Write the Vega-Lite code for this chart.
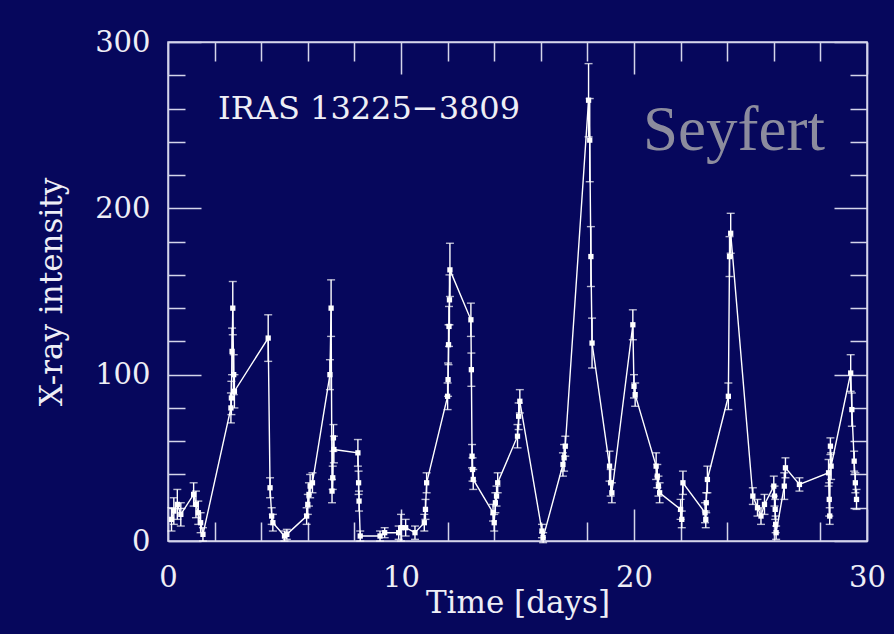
{
  "$schema": "https://vega.github.io/schema/vega-lite/v6.json",
  "autosize": {"type": "none"},
  "width": 699,
  "height": 499,
  "padding": {"left": 168, "top": 42, "right": 27, "bottom": 93},
  "background": "#06075c",
  "config": {
    "view": {"stroke": "#d4d4ea", "strokeWidth": 1.5},
    "axis": {"grid": false, "domainColor": "#d4d4ea", "domainWidth": 1.5, "tickColor": "#d4d4ea", "tickWidth": 1.5, "labelFlush": false, "labelOverlap": false}
  },
  "data": {"values": [
    {"t":0.15,"y":13,"e":7},{"t":0.25,"y":18,"e":8},{"t":0.4,"y":22,"e":9},{"t":0.55,"y":16,"e":7},
    {"t":1.1,"y":28,"e":7},{"t":1.2,"y":22,"e":8},{"t":1.3,"y":17,"e":7},{"t":1.4,"y":11,"e":6},{"t":1.5,"y":4,"e":4},
    {"t":2.7,"y":80,"e":9},{"t":2.72,"y":86,"e":10},{"t":2.75,"y":114,"e":14},{"t":2.78,"y":140,"e":16},{"t":2.82,"y":100,"e":12},{"t":2.85,"y":90,"e":10},
    {"t":4.3,"y":122,"e":14},{"t":4.38,"y":32,"e":6},{"t":4.45,"y":15,"e":5},{"t":4.5,"y":11,"e":5},
    {"t":5.0,"y":3,"e":3},{"t":5.1,"y":4,"e":3},
    {"t":5.95,"y":15,"e":5},{"t":6.0,"y":22,"e":6},{"t":6.05,"y":28,"e":7},{"t":6.1,"y":33,"e":7},{"t":6.2,"y":35,"e":6},
    {"t":6.95,"y":100,"e":9},{"t":7.0,"y":140,"e":17},{"t":7.04,"y":30,"e":7},{"t":7.07,"y":38,"e":7},{"t":7.1,"y":62,"e":8},{"t":7.12,"y":55,"e":8},
    {"t":8.15,"y":53,"e":8},{"t":8.18,"y":35,"e":7},{"t":8.2,"y":24,"e":6},{"t":8.25,"y":3,"e":3},
    {"t":9.1,"y":3,"e":3},{"t":9.3,"y":5,"e":3},
    {"t":9.9,"y":5,"e":4},{"t":10.0,"y":8,"e":8},{"t":10.2,"y":8,"e":5},{"t":10.6,"y":5,"e":4},
    {"t":11.0,"y":11,"e":5},{"t":11.05,"y":19,"e":6},{"t":11.1,"y":35,"e":6},
    {"t":12.0,"y":87,"e":8},{"t":12.02,"y":97,"e":10},{"t":12.04,"y":118,"e":12},{"t":12.06,"y":129,"e":12},{"t":12.08,"y":145,"e":15},{"t":12.1,"y":163,"e":16},
    {"t":13.0,"y":133,"e":10},{"t":13.02,"y":103,"e":10},{"t":13.05,"y":51,"e":7},{"t":13.07,"y":43,"e":7},{"t":13.1,"y":37,"e":6},
    {"t":13.95,"y":17,"e":5},{"t":14.0,"y":11,"e":5},{"t":14.05,"y":23,"e":6},{"t":14.1,"y":27,"e":6},{"t":14.15,"y":35,"e":6},
    {"t":15.0,"y":63,"e":7},{"t":15.05,"y":75,"e":8},{"t":15.1,"y":84,"e":7},
    {"t":16.05,"y":6,"e":4},{"t":16.1,"y":2,"e":3},
    {"t":16.95,"y":46,"e":7},{"t":17.0,"y":50,"e":8},{"t":17.05,"y":57,"e":6},
    {"t":18.05,"y":265,"e":22},{"t":18.1,"y":241,"e":25},{"t":18.15,"y":171,"e":18},{"t":18.2,"y":119,"e":15},
    {"t":18.95,"y":45,"e":9},{"t":19.0,"y":35,"e":8},{"t":19.05,"y":29,"e":6},
    {"t":19.95,"y":130,"e":9},{"t":20.0,"y":93,"e":7},{"t":20.05,"y":88,"e":7},
    {"t":20.95,"y":45,"e":8},{"t":21.0,"y":39,"e":7},{"t":21.05,"y":33,"e":6},{"t":21.1,"y":29,"e":6},
    {"t":22.0,"y":19,"e":6},{"t":22.05,"y":13,"e":5},{"t":22.1,"y":35,"e":7},
    {"t":23.05,"y":17,"e":6},{"t":23.08,"y":13,"e":5},{"t":23.1,"y":23,"e":6},{"t":23.15,"y":37,"e":8},
    {"t":24.05,"y":87,"e":8},{"t":24.1,"y":171,"e":12},{"t":24.15,"y":185,"e":12},
    {"t":25.1,"y":27,"e":5},{"t":25.3,"y":20,"e":5},{"t":25.45,"y":15,"e":5},{"t":25.6,"y":22,"e":6},
    {"t":26.0,"y":33,"e":6},{"t":26.03,"y":27,"e":6},{"t":26.06,"y":19,"e":6},{"t":26.08,"y":10,"e":5},{"t":26.1,"y":5,"e":4},
    {"t":26.45,"y":33,"e":8},{"t":26.5,"y":44,"e":6},
    {"t":27.1,"y":34,"e":4},
    {"t":28.35,"y":41,"e":8},{"t":28.38,"y":25,"e":10},{"t":28.4,"y":15,"e":5},{"t":28.43,"y":57,"e":5},{"t":28.46,"y":45,"e":8},
    {"t":29.3,"y":101,"e":11},{"t":29.35,"y":79,"e":10},{"t":29.45,"y":48,"e":6},{"t":29.5,"y":35,"e":6},{"t":29.55,"y":25,"e":6}
  ]},
  "layer": [
    {
      "mark": {"type": "errorbar", "ticks": {"size": 8}, "color": "#ffffff", "thickness": 1.4},
      "encoding": {
        "x": {"field": "t", "type": "quantitative", "scale": {"domain": [0, 30], "nice": false, "zero": false},
          "axis": {"orient": "bottom", "values": [0,2,4,6,8,10,12,14,16,18,20,22,24,26,28,30],
            "labelExpr": "datum.value % 10 === 0 ? datum.label : ''",
            "tickSize": {"condition": {"test": "datum.value % 10 === 0", "value": -32}, "value": -19},
            "labelPadding": 54, "labelFont": "DejaVu Serif", "labelFontSize": 29, "labelColor": "#eeeef6",
            "title": "Time [days]", "titleFont": "DejaVu Serif", "titleFontSize": 31, "titleFontWeight": "normal", "titleColor": "#eeeef6", "titlePadding": -17}},
        "y": {"field": "y", "type": "quantitative", "scale": {"domain": [0, 300], "nice": false},
          "axis": {"orient": "left", "values": [0,20,40,60,80,100,120,140,160,180,200,220,240,260,280,300],
            "labelExpr": "datum.value % 100 === 0 ? datum.label : ''",
            "tickSize": {"condition": {"test": "datum.value % 100 === 0", "value": -33}, "value": -17},
            "labelPadding": 51, "labelFont": "DejaVu Serif", "labelFontSize": 29, "labelColor": "#eeeef6",
            "title": "X-ray intensity", "titleFont": "DejaVu Serif", "titleFontSize": 31, "titleFontWeight": "normal", "titleColor": "#eeeef6", "titlePadding": 26}},
        "yError": {"field": "e"}
      }
    },
    {
      "mark": {"type": "line", "color": "#ffffff", "strokeWidth": 1.4},
      "encoding": {
        "x": {"field": "t", "type": "quantitative",
          "axis": {"orient": "top", "values": [0,2,4,6,8,10,12,14,16,18,20,22,24,26,28,30], "labels": false, "title": null,
            "tickSize": {"condition": {"test": "datum.value % 10 === 0", "value": -32}, "value": -19}}},
        "y": {"field": "y", "type": "quantitative",
          "axis": {"orient": "right", "values": [0,20,40,60,80,100,120,140,160,180,200,220,240,260,280,300], "labels": false, "title": null,
            "tickSize": {"condition": {"test": "datum.value % 100 === 0", "value": -33}, "value": -17}}}
      }
    },
    {
      "mark": {"type": "square", "color": "#ffffff", "size": 28, "opacity": 1},
      "encoding": {
        "x": {"field": "t", "type": "quantitative", "axis": null},
        "y": {"field": "y", "type": "quantitative", "axis": null}
      }
    },
    {
      "data": {"values": [{"label": "IRAS 13225−3809"}]},
      "mark": {"type": "text", "font": "DejaVu Serif", "fontSize": 32, "color": "#eeeef6", "align": "left", "baseline": "alphabetic"},
      "encoding": {
        "x": {"datum": 2.15, "type": "quantitative", "axis": null},
        "y": {"datum": 254, "type": "quantitative", "axis": null},
        "text": {"field": "label"}
      }
    },
    {
      "data": {"values": [{"label": "Seyfert"}]},
      "mark": {"type": "text", "font": "Liberation Serif", "fontSize": 63, "color": "#8c8c9e", "align": "left", "baseline": "alphabetic"},
      "encoding": {
        "x": {"datum": 20.39, "type": "quantitative", "axis": null},
        "y": {"datum": 235, "type": "quantitative", "axis": null},
        "text": {"field": "label"}
      }
    }
  ],
  "resolve": {"axis": {"x": "independent", "y": "independent"}}
}
